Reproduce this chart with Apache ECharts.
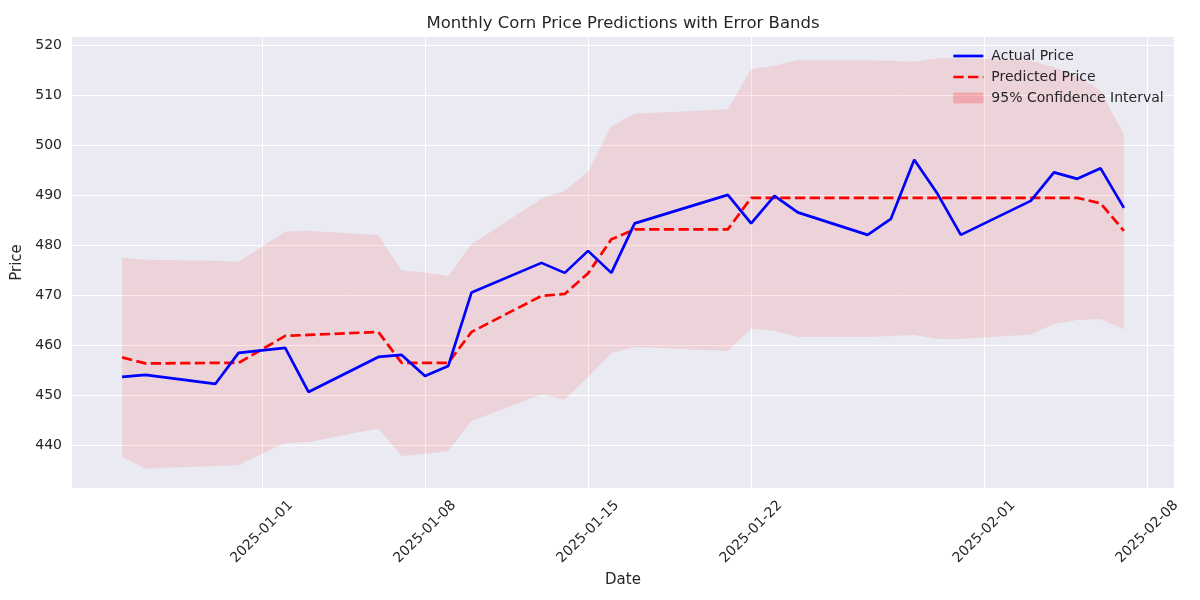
<!DOCTYPE html>
<html>
<head>
<meta charset="utf-8">
<script src="https://cdn.jsdelivr.net/npm/echarts@6/dist/echarts.min.js"></script>
<style>html,body{margin:0;padding:0;background:#fff;}#chart{width:1200px;height:600px;}</style>
</head>
<body>
<div id="chart"></div>
<script>
// ---- data ----
const dates = ['2024-12-26','2024-12-27','2024-12-30','2024-12-31','2025-01-02','2025-01-03','2025-01-06','2025-01-07','2025-01-08','2025-01-09','2025-01-10','2025-01-13','2025-01-14','2025-01-15','2025-01-16','2025-01-17','2025-01-21','2025-01-22','2025-01-23','2025-01-24','2025-01-27','2025-01-28','2025-01-29','2025-01-30','2025-01-31','2025-02-03','2025-02-04','2025-02-05','2025-02-06','2025-02-07'];
const actualPrice = [453.7,454.1,452.3,458.5,459.5,450.7,457.7,458.1,453.9,455.9,470.6,476.5,474.5,478.9,474.5,484.4,490.1,484.4,489.9,486.6,482.1,485.3,497.1,490.3,482.1,488.9,494.6,493.3,495.4,487.5];
const predictedPrice = [457.6,456.4,456.5,456.5,461.9,462.1,462.7,456.5,456.5,456.5,462.7,469.9,470.3,474.4,481.2,483.2,483.2,489.5,489.5,489.5,489.5,489.5,489.5,489.5,489.5,489.5,489.5,489.5,488.4,482.9];
const upperBound = [477.5,477.1,476.9,476.7,482.7,482.9,482.0,475.0,474.6,473.9,480.2,489.3,490.9,494.7,503.8,506.3,507.2,515.2,515.9,517.0,517.0,516.9,516.7,517.4,517.4,516.9,515.6,513.8,510.9,502.1];
const lowerBound = [437.7,435.4,435.9,436.1,440.5,440.7,443.4,437.9,438.3,438.9,444.9,450.2,449.2,453.7,458.5,459.7,458.9,463.4,462.9,461.7,461.7,461.9,462.1,461.3,461.3,462.2,464.3,465.1,465.3,463.2];
const xTickLabels = ['2025-01-01','2025-01-08','2025-01-15','2025-01-22','2025-02-01','2025-02-08'];
const yTickValues = [440,450,460,470,480,490,500,510,520];

// ---- helpers ----
const DAY = 86400000;
const BASE = Date.UTC(2025, 0, 1);
function dayOffset(s) { const p = s.split('-').map(Number); return (Date.UTC(p[0], p[1] - 1, p[2]) - BASE) / DAY; }
const xs = dates.map(dayOffset);
const xTickPos = xTickLabels.map(dayOffset);

const FONT = 'DejaVu Sans';
const TXT = '#262626';

const chart = echarts.init(document.getElementById('chart'), null, {renderer: 'canvas'});
const gridLines = xTickPos.map(v => ({xAxis: v})).concat(yTickValues.map(v => ({yAxis: v})));

chart.setOption({
  animation: false,
  backgroundColor: '#ffffff',
  textStyle: {fontFamily: FONT},
  title: {
    text: 'Monthly Corn Price Predictions with Error Bands',
    left: 623, top: 15, textAlign: 'center', padding: 0,
    textStyle: {fontFamily: FONT, fontSize: 16.5, fontWeight: 'normal', color: TXT}
  },
  grid: {left: 72, right: 26, top: 37, bottom: 112, show: true, backgroundColor: '#eaeaf2', borderWidth: 0},
  legend: {
    orient: 'vertical', left: 952, top: 49, itemWidth: 30, itemHeight: 14, itemGap: 7,
    selectedMode: false, padding: 0,
    textStyle: {fontFamily: FONT, fontSize: 14, color: TXT, padding: [0, 0, 0, 3]},
    data: [
      {name: 'Actual Price', itemStyle: {color: 'rgba(0,0,0,0)', borderWidth: 0},
       lineStyle: {color: '#0000ff', width: 2.7, type: 'solid'}},
      {name: 'Predicted Price', itemStyle: {color: 'rgba(0,0,0,0)', borderWidth: 0},
       lineStyle: {color: '#ff0000', width: 2.7, type: [10.3, 4.4]}},
      {name: '95% Confidence Interval', icon: 'path://M0,0 L28,0 L28,10 L0,10 Z', itemStyle: {color: 'rgba(255,0,0,0.2)', borderWidth: 0}}
    ]
  },
  xAxis: {
    type: 'value', min: -8.15, max: 39.15, interval: 0.05,
    name: 'Date', nameLocation: 'middle', nameGap: 80,
    nameTextStyle: {fontFamily: FONT, fontSize: 15, color: TXT},
    axisLine: {show: false}, axisTick: {show: false}, splitLine: {show: false},
    axisLabel: {
      rotate: 45, align: 'center', verticalAlign: 'middle', margin: 44,
      fontFamily: FONT, fontSize: 14, color: TXT,
      formatter: function (v) {
        for (let i = 0; i < xTickPos.length; i++) { if (Math.abs(xTickPos[i] - v) < 1e-6) return xTickLabels[i]; }
        return '';
      }
    }
  },
  yAxis: {
    type: 'value', min: 431.5, max: 521.65, interval: 0.5,
    name: 'Price', nameLocation: 'middle', nameGap: 40, nameRotate: 90,
    nameTextStyle: {fontFamily: FONT, fontSize: 15, color: TXT},
    axisLine: {show: false}, axisTick: {show: false}, splitLine: {show: false},
    axisLabel: {
      margin: 10, fontFamily: FONT, fontSize: 14, color: TXT,
      formatter: function (v) {
        const r = Math.round(v);
        return (Math.abs(v - r) < 1e-6 && yTickValues.indexOf(r) >= 0) ? String(r) : '';
      }
    }
  },
  series: [
    {
      name: 'gridHost', type: 'line', z: 1,
      data: xs.map((x, i) => [x, lowerBound[i]]),
      symbol: 'none', lineStyle: {width: 0, opacity: 0}, silent: true,
      markLine: {
        silent: true, symbol: ['none', 'none'], z: 1, animation: false,
        label: {show: false},
        lineStyle: {color: '#ffffff', width: 1, type: 'solid', opacity: 1},
        emphasis: {disabled: true},
        data: gridLines
      }
    },
    {
      name: '95% Confidence Interval', type: 'custom', z: 2, silent: true,
      itemStyle: {color: 'rgba(255,0,0,0.2)'},
      data: xs.map((x, i) => [x, upperBound[i], lowerBound[i]]),
      encode: {x: 0, y: [1, 2]},
      renderItem: function (params, api) {
        if (params.dataIndex !== 0) return null;
        const pts = [];
        for (let i = 0; i < xs.length; i++) pts.push(api.coord([xs[i], upperBound[i]]));
        for (let i = xs.length - 1; i >= 0; i--) pts.push(api.coord([xs[i], lowerBound[i]]));
        return {type: 'polygon', shape: {points: pts}, style: {fill: 'rgba(255,0,0,0.1)', stroke: null}, silent: true};
      }
    },
    {
      name: 'Predicted Price', type: 'line', z: 3,
      data: xs.map((x, i) => [x, predictedPrice[i]]),
      symbol: 'none', itemStyle: {color: '#ff0000'},
      lineStyle: {color: '#ff0000', width: 2.7, type: [10.3, 4.4]}
    },
    {
      name: 'Actual Price', type: 'line', z: 4,
      data: xs.map((x, i) => [x, actualPrice[i]]),
      symbol: 'none', itemStyle: {color: '#0000ff'},
      lineStyle: {color: '#0000ff', width: 2.7}
    }
  ]
});
</script>
</body>
</html>
